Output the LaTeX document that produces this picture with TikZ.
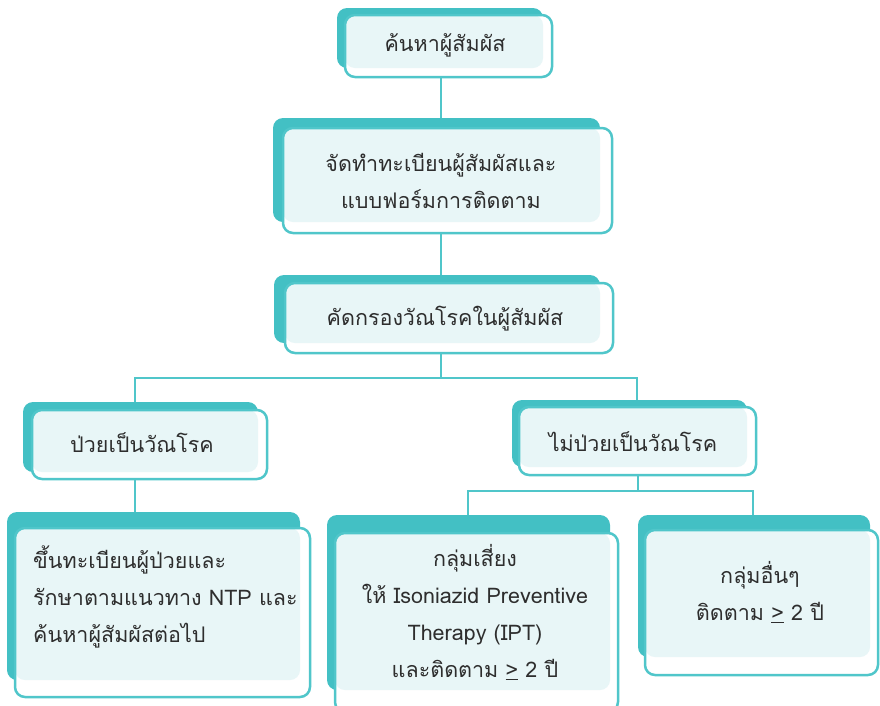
\documentclass[tikz,border=0pt]{standalone}
\usepackage{fontspec}
\setmainfont[Script=Thai]{Loma}
\usetikzlibrary{calc,backgrounds}
\definecolor{tealA}{HTML}{43C0C4}
\definecolor{tealB}{HTML}{50C6CA}
\definecolor{lightC}{HTML}{E8F6F7}
\definecolor{txt}{HTML}{2E2E2E}
\tikzset{
  conn/.style={tealB,line width=2.5pt},
  backrect/.style={fill=tealA,rounded corners=10pt},
  frontrect/.style={fill=white,rounded corners=10pt},
  innerrect/.style={fill=lightC,rounded corners=10pt},
  framerect/.style={draw=tealB,line width=2.5pt,rounded corners=10pt},
  lbl/.style={text=txt,font=\fontsize{21.5}{37}\selectfont,align=center,inner sep=0pt},
  hub/.style={inner sep=0pt,minimum size=0pt}
}
% name, A (x1,y1)(x2,y2), B (x1,y1)(x2,y2)
\def\ibox#1(#2,#3)(#4,#5)(#6,#7)(#8,#9){%
  \fill[backrect] (#2,#3) rectangle (#4,#5);
  \fill[frontrect] (#6,#7) rectangle (#8,#9);
  \fill[innerrect] (#6,#7) rectangle (#4,#5);
  \draw[framerect] (#6,#7) rectangle (#8,#9);
  \node[hub] (#1) at ($(#2,#3)!0.5!(#8,#9)$) {};
}
\begin{document}
\begin{tikzpicture}[x=1pt,y=-1pt]
\useasboundingbox (0,0) rectangle (880,705);

\ibox b1(337,8)(543,68)(345,15)(552,77)
\ibox b2(273,118)(600,222)(283,128)(612,233)
\ibox b3(274,275)(600,343)(285,283)(613,353)
\ibox b4(23,402)(258,472)(32,410)(267,479)
\ibox b5(512,400)(747,467)(519,407)(756,475)
\ibox b6(7,512)(300,680)(15,528)(310,697)
\ibox b7(327,515)(610,690)(335,533)(618,712)
\ibox b8(638,515)(870,657)(645,530)(878,675)

\node[lbl] (t1) at (445,45) {ค้นหาผู้สัมผัส};
\node[lbl] (t2) at (441,181) {จัดทำทะเบียนผู้สัมผัสและ\\แบบฟอร์มการติดตาม};
\node[lbl] (t3) at (445,319) {คัดกรองวัณโรคในผู้สัมผัส};
\node[lbl] (t4) at (142,443) {ป่วยเป็นวัณโรค};
\node[lbl] (t5) at (633,442) {ไม่ป่วยเป็นวัณโรค};
\node[lbl,align=left,anchor=west] (t6) at (33,597) {ขึ้นทะเบียนผู้ป่วยและ\\รักษาตามแนวทาง NTP และ\\ค้นหาผู้สัมผัสต่อไป};
\node[lbl] (t7) at (475,612) {กลุ่มเสี่ยง\\ให้ Isoniazid Preventive\\Therapy (IPT)\\และติดตาม \underline{>} 2 ปี};
\node[lbl] (t8) at (760,592) {กลุ่มอื่นๆ\\ติดตาม \underline{>} 2 ปี};

\coordinate (j1) at (441,378);
\coordinate (j1l) at (135,378);
\coordinate (j1r) at (637,378);
\coordinate (j2) at (638,491);
\coordinate (j2l) at (468,491);
\coordinate (j2r) at (753,491);

\begin{scope}[on background layer]
\draw[conn] (j1 |- b1) -- (j1 |- b2);
\draw[conn] (j1 |- b2) -- (j1 |- b3);
\draw[conn] (j1 |- b3) -- (j1);
\draw[conn] (j1l |- b4) -- (j1l) -- (j1r) -- (j1r |- b5);
\draw[conn] (j1l |- b4) -- (j1l |- b6);
\draw[conn] (j2 |- b5) -- (j2);
\draw[conn] (j2l |- b7) -- (j2l) -- (j2r) -- (j2r |- b8);
\end{scope}
\end{tikzpicture}
\end{document}
